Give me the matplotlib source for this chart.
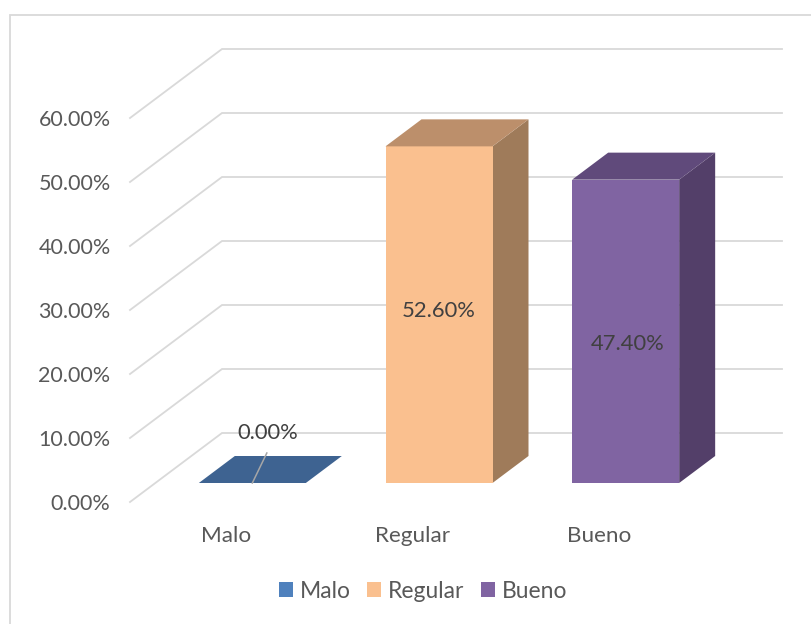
from matplotlib.patches import Patch, Polygon, Rectangle
import matplotlib.pyplot as plt

# ── Datos ─────────────────────────────────────────────────────────────────────
categorias = ["Malo", "Regular", "Bueno"]
valores = [0.0, 52.6, 47.4]
etiquetas = ["0.00%", "52.60%", "47.40%"]
y_ticks = [0, 10, 20, 30, 40, 50, 60]

colores_frente = ["#4F81BD", "#FAC08F", "#8064A2"]
colores_techo = ["#3E6391", "#BC8F6B", "#604A7B"]
colores_lado = ["#34537A", "#9F7B5A", "#533F69"]
COLOR_GRID = "#D9D9D9"
COLOR_TEXTO = "#595959"
COLOR_DATO = "#404040"

plt.rcParams["font.family"] = ["Lato", "DejaVu Sans"]

W, H = 811, 624
fig = plt.figure(figsize=(W / 100, H / 100), dpi=100)
# Plano frontal del gráfico en píxeles: x 130-690, y 118-502
ax = fig.add_axes([130 / W, 1 - 502 / H, 560 / W, 384 / H])
ax.set_xlim(-0.5, 2.5)
ax.set_ylim(0, 60)
PX_X = 560 / 3   # píxeles por categoría
PX_Y = 6.4       # píxeles por punto porcentual

# Marco del área del gráfico (se corta en los bordes derecho e inferior)
fig.add_artist(Rectangle((9.5 / W, -0.05), 1.1, 1.05 - 14.5 / H,
                         transform=fig.transFigure, fill=False,
                         edgecolor=COLOR_GRID, linewidth=1.3))

# ── Falso 3D: desplazamientos de profundidad en unidades de datos ─────────────
FONDO_X, FONDO_Y = 92 / PX_X, 69 / PX_Y     # pared del fondo
BARRA_X, BARRA_Y = 36 / PX_X, 27 / PX_Y     # profundidad de la barra
SHIFT_X, SHIFT_Y = 29 / PX_X, 19 / PX_Y     # frente de la barra respecto al plano
ANCHO = 107 / PX_X

for v in y_ticks:
    ax.plot([-0.5, -0.5 + FONDO_X, 2.5 + FONDO_X], [v, v + FONDO_Y, v + FONDO_Y],
            color=COLOR_GRID, linewidth=1.3, clip_on=False, zorder=1,
            solid_joinstyle="miter")

# ── Barras ────────────────────────────────────────────────────────────────────
posiciones = [i + SHIFT_X for i in range(len(categorias))]
ax.bar(posiciones, valores, width=ANCHO, bottom=SHIFT_Y, color=colores_frente,
       clip_on=False, zorder=3)

for x, v, c_techo, c_lado in zip(posiciones, valores, colores_techo, colores_lado):
    x0, x1 = x - ANCHO / 2, x + ANCHO / 2
    y0, y1 = SHIFT_Y, SHIFT_Y + v
    techo = [(x0, y1), (x1, y1), (x1 + BARRA_X, y1 + BARRA_Y), (x0 + BARRA_X, y1 + BARRA_Y)]
    lado = [(x1, y0), (x1 + BARRA_X, y0 + BARRA_Y), (x1 + BARRA_X, y1 + BARRA_Y), (x1, y1)]
    ax.add_patch(Polygon(lado, color=c_lado, linewidth=0, clip_on=False, zorder=2))
    ax.add_patch(Polygon(techo, color=c_techo, linewidth=0, clip_on=False, zorder=4))

# ── Etiquetas de datos ────────────────────────────────────────────────────────
# La altura de cada etiqueta va medida sobre la base de la barra, en píxeles
ax.plot([posiciones[0], posiciones[0] + 14.5 / PX_X], [SHIFT_Y, SHIFT_Y + 30 / PX_Y],
        color="#A6A6A6", linewidth=1.1, clip_on=False, zorder=5)
dx_etiqueta = [15, 0, 2]
dy_etiqueta = [50, 172, 139]
for x, txt, dx, dy in zip(posiciones, etiquetas, dx_etiqueta, dy_etiqueta):
    ax.text(x + dx / PX_X, SHIFT_Y + dy / PX_Y, txt, ha="center", va="center",
            fontsize=15.8, color=COLOR_DATO, zorder=6)

# ── Ejes ──────────────────────────────────────────────────────────────────────
ax.set_yticks(y_ticks)
ax.set_yticklabels([f"{v:.2f}%" for v in y_ticks], fontsize=15.5, color=COLOR_TEXTO)
ax.set_xticks([i + 2.5 / PX_X for i in range(len(categorias))])
ax.set_xticklabels(categorias, fontsize=16.2, color=COLOR_TEXTO)
ax.tick_params(axis="y", length=0, pad=14)
ax.tick_params(axis="x", length=0, pad=17)
for spine in ax.spines.values():
    spine.set_visible(False)
ax.patch.set_visible(False)

# ── Leyenda ───────────────────────────────────────────────────────────────────
handles = [Patch(facecolor=c, label=n) for c, n in zip(colores_frente, categorias)]
fig.legend(handles=handles, loc="center", bbox_to_anchor=(423 / W, 1 - 591 / H), ncol=3,
           frameon=False, fontsize=16.5, labelcolor=COLOR_TEXTO, handlelength=0.62,
           handleheight=0.62, handletextpad=0.3, columnspacing=0.7)

fig.savefig("out.png", dpi=100)
plt.close(fig)
